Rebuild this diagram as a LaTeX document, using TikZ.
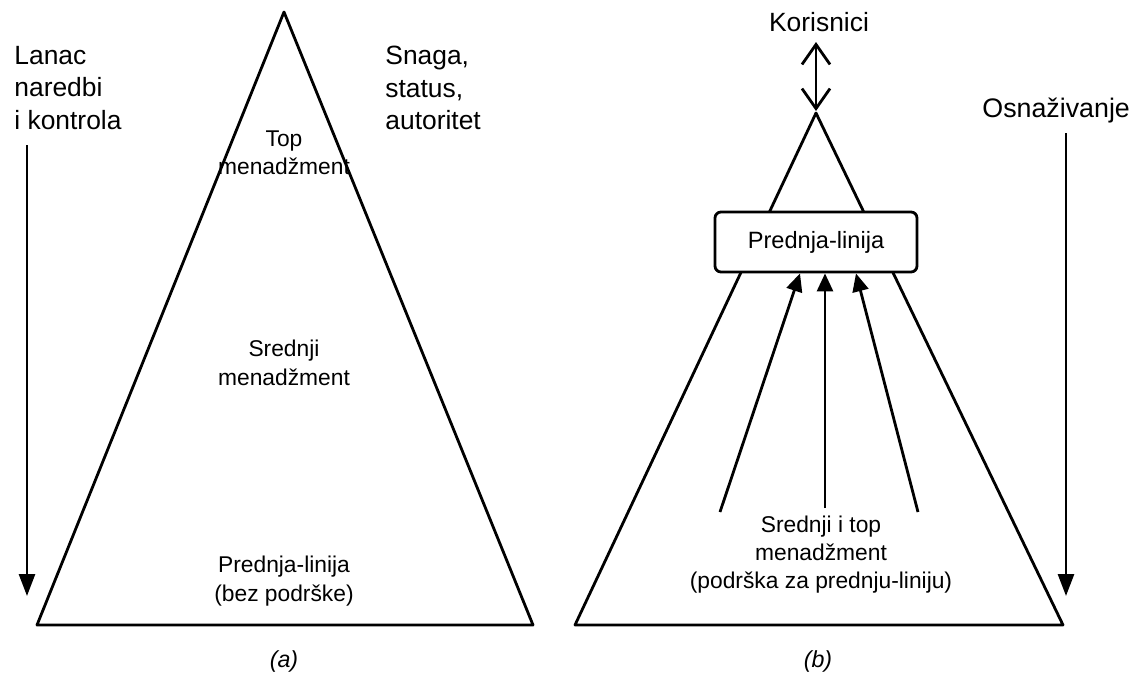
\documentclass[tikz,border=0pt]{standalone}
\usepackage{fontspec}
\setmainfont{Liberation Sans}
\usetikzlibrary{arrows.meta,positioning}

\begin{document}
\begin{tikzpicture}[x=0.5pt,y=-0.5pt,
    edge/.style={line width=1.4pt, line join=round},
    bigtxt/.style={font=\fontsize{13.2}{16.2}\selectfont, align=left, inner sep=0pt},
    smalltxt/.style={font=\fontsize{11.4}{14.4}\selectfont, align=center, inner sep=0pt},
    longarrow/.style={line width=1.4pt, -{Triangle[length=11pt,width=8pt]}},
    supparrow/.style={line width=1.4pt, -{Triangle[length=9pt,width=8pt]}}]
        \useasboundingbox (0,0) rectangle (1131,675);

        % Piramida (a)
        \coordinate (TopA) at (284,12);
        \coordinate (LeftA) at (37,625);
        \coordinate (RightA) at (533,625);
        \draw[edge] (TopA) -- (LeftA) -- (RightA) -- cycle;

        \node[bigtxt, anchor=north west] (lanac) at (14,46) {Lanac\\naredbi\\i kontrola};
        \node[bigtxt, anchor=north west] (snaga) at (385,46) {Snaga,\\status,\\autoritet};
        \coordinate (lanacS) at (27,145);
        \coordinate (lanacE) at (27,596);
        \draw[longarrow] (lanacS) -- (lanacE);

        \node[smalltxt, anchor=north] (topA) at (284,130) {Top\\menadžment};
        \node[smalltxt, anchor=north] (srednjiA) at (284,340) {Srednji\\menadžment};
        \node[smalltxt, anchor=north] (prednjaA) at (284,556) {Prednja-linija\\(bez podrške)};
        \node[font=\fontsize{11.6}{14}\selectfont\itshape, inner sep=0pt, anchor=base] (capA) at (284,667) {(a)};

        % Obrnuta piramida (b)
        \coordinate (TopB) at (816,113);
        \coordinate (LeftB) at (575,625);
        \coordinate (RightB) at (1063,625);
        \draw[edge] (TopB) -- (LeftB) -- (RightB) -- cycle;

        \node[draw, fill=white, line width=1.4pt, rounded corners=3pt,
              minimum width=101pt, minimum height=30pt,
              font=\fontsize{11.8}{14.4}\selectfont] (prednjaB) at (816,242) {Prednja-linija};

        \node[bigtxt, anchor=base] (korisnici) at (819,31) {Korisnici};
        \coordinate (korS) at (816,42);
        \coordinate (korE) at (816,111);
        \draw[line width=1.4pt, {Straight Barb[length=10pt,width=14pt]}-{Straight Barb[length=10pt,width=14pt]}] (korS) -- (korE);

        \node[bigtxt, font=\fontsize{13.4}{16}\selectfont, anchor=base west] (osnaz) at (982,117) {Osnaživanje};
        \coordinate (osnS) at (1066,133);
        \coordinate (osnE) at (1066,596);
        \draw[longarrow] (osnS) -- (osnE);

        \node[smalltxt, font=\fontsize{11.4}{14}\selectfont, anchor=north] (srednjiB) at (821,516) {Srednji i top\\menadžment\\(podrška za prednju-liniju)};
        % Strelice podrške
        \coordinate (s1) at (720,512);
        \coordinate (s2) at (825,508);
        \coordinate (s3) at (918,512);
        \draw[supparrow] (s1) -- (prednjaB.south -| 800,0);
        \draw[supparrow] (s2) -- (prednjaB.south -| 825,0);
        \draw[supparrow] (s3) -- (prednjaB.south -| 856,0);

        \node[font=\fontsize{11.6}{14}\selectfont\itshape, inner sep=0pt, anchor=base] (capB) at (818,667) {(b)};
    \end{tikzpicture}
\end{document}
